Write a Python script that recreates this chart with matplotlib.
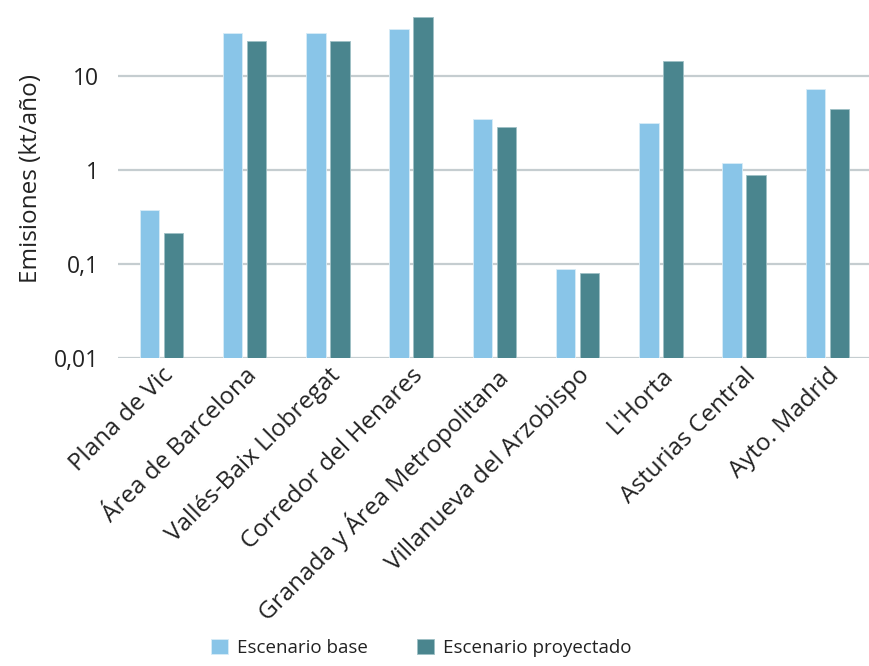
import matplotlib
matplotlib.use("Agg")
import matplotlib.pyplot as plt
import numpy as np
from matplotlib.ticker import FixedLocator, FuncFormatter, NullLocator

plt.rcParams['font.family'] = ['Open Sans', 'DejaVu Sans']

regions = ["Plana de Vic", "Área de Barcelona", "Vallés-Baix Llobregat",
           "Corredor del Henares", "Granada y Área Metropolitana",
           "Villanueva del Arzobispo", "L'Horta", "Asturias Central",
           "Ayto. Madrid"]
base = [0.37, 28.7, 28.7, 31.6, 3.5, 0.089, 3.16, 1.19, 7.3]
proyectado = [0.214, 23.6, 23.6, 42.5, 2.87, 0.080, 14.4, 0.885, 4.46]
yticks = [0.01, 0.1, 1, 10]

c_base = '#89c5e8'
c_proy = '#4a858e'
text_c = '#222222'

fig = plt.figure(figsize=(8.69, 6.66), dpi=100)
ax = fig.add_axes([0.136, 0.4625, 0.864, 0.5375])

x = np.arange(len(regions))
w = 0.234
off = 0.144
ax.bar(x - off, base, w, color=c_base, edgecolor='#d8ecf7', linewidth=0.6,
       label='Escenario base', zorder=2)
ax.bar(x + off, proyectado, w, color=c_proy, edgecolor='#9fc0c5', linewidth=0.6,
       label='Escenario proyectado', zorder=2)

ax.set_yscale('log')
ax.set_ylim(0.01, 64)
ax.set_xlim(-0.52, len(regions) - 0.5)
ax.yaxis.set_major_locator(FixedLocator(yticks))
ax.yaxis.set_minor_locator(NullLocator())
ax.yaxis.set_major_formatter(FuncFormatter(lambda v, p: ('%g' % v).replace('.', ',')))
ax.grid(axis='y', color='#c5cdd0', linewidth=1.6)
ax.set_axisbelow(True)
for s in ax.spines.values():
    s.set_visible(False)
ax.tick_params(axis='both', length=0, labelsize=16.5, colors=text_c, pad=14)
ax.tick_params(axis='x', pad=4)

ax.set_xticks(x)
ax.set_xticklabels(regions, rotation=45, ha='right', rotation_mode='anchor',
                   fontsize=17.5, color=text_c)
ax.set_ylabel('Emisiones (kt/año)', fontsize=17.5, color=text_c, labelpad=8)

# legend kept just inside the bottom edge
fig.legend(loc='lower center', bbox_to_anchor=(0.485, -0.012), ncol=2,
           frameon=False, fontsize=13.5, handlelength=0.9, handleheight=0.9,
           columnspacing=2.6, handletextpad=0.5, labelcolor=text_c)

fig.savefig('out.png', dpi=100)
